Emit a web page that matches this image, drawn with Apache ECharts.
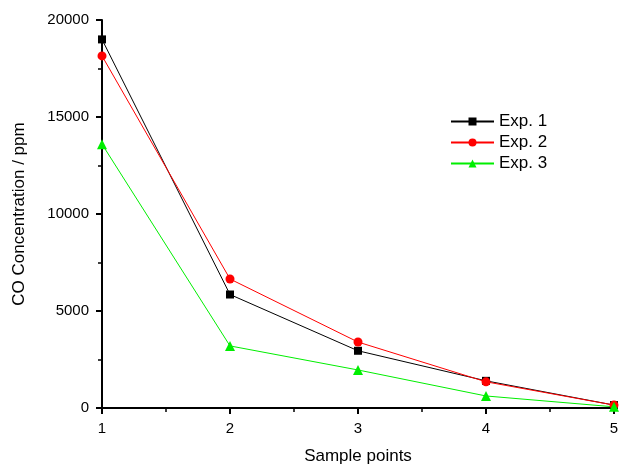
<!DOCTYPE html>
<html><head><meta charset="utf-8">
<script src="https://cdn.jsdelivr.net/npm/echarts@6/dist/echarts.min.js"></script>
<style>html,body{margin:0;padding:0;background:#fff}#c{width:619px;height:467px}</style>
</head><body><div id="c"></div>
<script>
const samplePoints = [1, 2, 3, 4, 5];
const exp1 = [19000, 5850, 2950, 1400, 150];
const exp2 = [18150, 6650, 3400, 1350, 150];
const exp3 = [13600, 3200, 1960, 620, 60];
const seriesNames = ['Exp. 1', 'Exp. 2', 'Exp. 3'];
const xTitle = 'Sample points';
const yTitle = 'CO Concentration / ppm';

const font = 'Liberation Sans, Arial, sans-serif';
function pairs(v){ return samplePoints.map((x,i)=>[x, v[i]]); }
const chart = echarts.init(document.getElementById('c'), null, {renderer:'canvas'});
const axisCommon = {
  axisLine:{show:true, onZero:false, lineStyle:{color:'#000', width:2}},
  axisTick:{show:true, inside:false, length:6, lineStyle:{color:'#000', width:2}},
  minorTick:{show:true, splitNumber:2, length:4, lineStyle:{color:'#000', width:1.5}},
  splitLine:{show:false},
  axisLabel:{color:'#000', fontFamily:font, fontSize:15}
};
chart.setOption({
  animation:false,
  backgroundColor:'#fff',
  grid:{left:102, right:5, top:20, bottom:59, containLabel:false, outerBoundsMode:'none'},
  legend:{
    orient:'vertical', left:450, top:113, padding:0, itemWidth:43, itemHeight:10, itemGap:4,
    textStyle:{fontFamily:font, fontSize:17, color:'#000'},
    data:seriesNames
  },
  xAxis:Object.assign({}, axisCommon, {
    type:'value', min:1, max:5, interval:1,
    name:xTitle, nameLocation:'middle', nameGap:40,
    nameTextStyle:{fontFamily:font, fontSize:17, color:'#000'},
    axisLabel:Object.assign({}, axisCommon.axisLabel, {margin:13})
  }),
  yAxis:Object.assign({}, axisCommon, {
    type:'value', min:0, max:20000, interval:5000,
    name:yTitle, nameLocation:'middle', nameGap:74,
    nameTextStyle:{fontFamily:font, fontSize:17, color:'#000'},
    axisLabel:Object.assign({}, axisCommon.axisLabel, {margin:13, formatter:function(v){return String(v);}})
  }),
  series:[
    {name:seriesNames[0], type:'line', data:pairs(exp1), symbol:'rect', symbolSize:8, color:'#000',
     lineStyle:{width:1, color:'#000'}, itemStyle:{color:'#000'}},
    {name:seriesNames[1], type:'line', data:pairs(exp2), symbol:'circle', symbolSize:9, color:'#ff0000',
     lineStyle:{width:1, color:'#ff0000'}, itemStyle:{color:'#ff0000'}},
    {name:seriesNames[2], type:'line', data:pairs(exp3), symbol:'triangle', symbolSize:10, color:'#00ee00',
     lineStyle:{width:1, color:'#00ee00'}, itemStyle:{color:'#00ee00'}}
  ]
});
</script></body></html>
